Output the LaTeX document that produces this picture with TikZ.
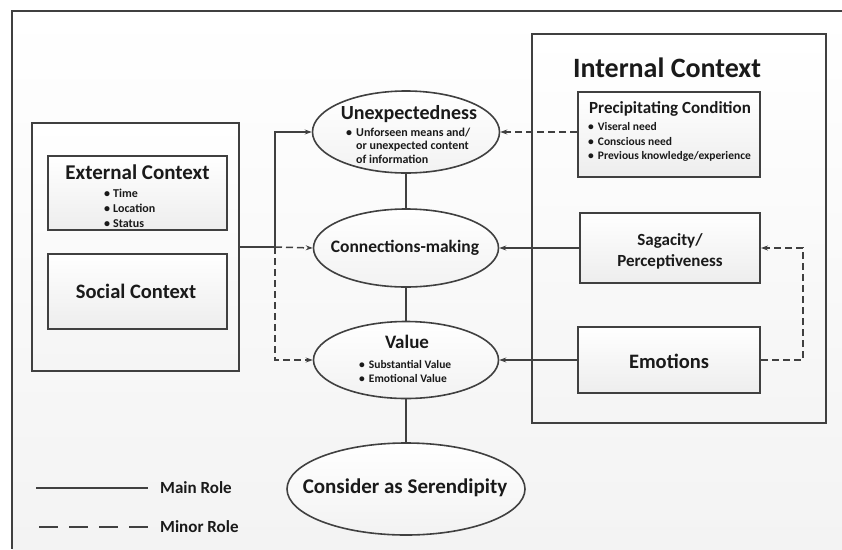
\documentclass[tikz,border=0pt]{standalone}
\usepackage{fontspec}
\setmainfont{Carlito}
\usetikzlibrary{arrows.meta}
\definecolor{linec}{HTML}{404040}
\definecolor{txtc}{HTML}{1A1A1A}
\definecolor{bgc}{HTML}{F3F3F3}
\newcommand{\fs}[2]{\fontsize{#1}{#2}\selectfont}
\tikzset{
  box/.style={draw=linec, line width=2pt, rectangle, top color=white, bottom color=gray!14, inner sep=0pt},
  bigbox/.style={draw=linec, line width=2.4pt, rectangle, top color=white, bottom color=gray!8, inner sep=0pt},
  ell/.style={draw=linec, line width=1.6pt, ellipse, top color=white, bottom color=gray!10, inner sep=0pt},
  txt/.style={text=txtc, font=\bfseries, inner sep=0pt},
  main/.style={draw=linec, line width=1.5pt},
  minor/.style={draw=linec, line width=1.5pt, dash pattern=on 7pt off 4pt},
  legminor/.style={draw=linec, line width=1.6pt, dash pattern=on 19pt off 11pt},
  arr/.style={-{Stealth[length=7pt,width=5pt]}},
}
\usetikzlibrary{shapes.geometric}
\begin{document}
\begin{tikzpicture}[x=1pt,y=-1pt]
\useasboundingbox (0,0) rectangle (842,549);
\fill[white] (0,0) rectangle (842,549);
\shade[top color=white, bottom color=bgc] (12,11) rectangle (842,549);
\draw[draw=linec, line width=2.6pt] (842,11) -- (12,11) -- (12,549);

% left group
\node[bigbox, minimum width=207pt, minimum height=248pt] (leftbox) at (135.5,247) {};
\node[box, minimum width=179pt, minimum height=74pt] (ext) at (137.5,193) {};
\node[box, minimum width=179pt, minimum height=75pt] (soc) at (137.5,291.5) {};
\node[txt, font=\bfseries\fs{21}{25}] (extT) at (137.5,172.5) {External Context};
\node[txt, anchor=west, font=\bfseries\fs{12}{14.8}] (extB) at (104,209.5)
  {\begin{tabular}{@{}l@{\hspace{3pt}}l@{}}•&Time\\•&Location\\•&Status\end{tabular}};
\node[txt, font=\bfseries\fs{20.5}{24}] (socT) at (136,291) {Social Context};

% internal group
\node[bigbox, minimum width=294pt, minimum height=389pt] (intbox) at (679,228.5) {};
\node[txt, font=\bfseries\fs{28}{32}] (intT) at (667,68) {Internal Context};
\node[box, minimum width=182pt, minimum height=85pt] (prec) at (669,134.5) {};
\node[txt, font=\bfseries\fs{17}{20}] (precT) at (670,109) {Precipitating Condition};
\node[txt, anchor=west, font=\bfseries\fs{11.5}{14.5}] (precB) at (588,142.5)
  {\begin{tabular}{@{}l@{\hspace{4pt}}l@{}}•&Viseral need\\•&Conscious need\\•&Previous knowledge/experience\end{tabular}};
\node[box, minimum width=180pt, minimum height=70pt] (sag) at (670,248) {};
\node[txt, align=center, font=\bfseries\fs{17}{21}] (sagT) at (670,251) {Sagacity/\\Perceptiveness};
\node[box, minimum width=182pt, minimum height=66pt] (emo) at (669,360) {};
\node[txt, font=\bfseries\fs{20.5}{24}] (emoT) at (669,361) {Emotions};

% ellipses
\node[ell, minimum width=187pt, minimum height=82pt] (unexp) at (406,132) {};
\node[txt, font=\bfseries\fs{20}{23}] (unexpT) at (409,114) {Unexpectedness};
\node[txt, anchor=west, font=\bfseries\fs{12}{13.5}] (unexpB) at (346,147)
  {\begin{tabular}{@{}l@{\hspace{4pt}}l@{}}•&Unforseen means and/\\&or unexpected content\\&of information\end{tabular}};
\node[ell, minimum width=185pt, minimum height=78pt] (conn) at (406,248) {};
\node[txt, font=\bfseries\fs{17.5}{22}] (connT) at (405,248) {Connections-making};
\node[ell, minimum width=185pt, minimum height=77pt] (value) at (406,360) {};
\node[txt, font=\bfseries\fs{19}{22}] (valueT) at (407,342) {Value};
\node[txt, anchor=west, font=\bfseries\fs{11.5}{14}] (valueB) at (359,373)
  {\begin{tabular}{@{}l@{\hspace{4pt}}l@{}}•&Substantial Value\\•&Emotional Value\end{tabular}};
\node[ell, minimum width=238pt, minimum height=92pt] (seren) at (406,489) {};
\node[txt, font=\bfseries\fs{21}{25}] (serenT) at (405,488) {Consider as Serendipity};

% connectors
\coordinate (jn) at (275,247);
\coordinate (cr) at (803,360);
\draw[main] (leftbox.east) -- (jn);
\draw[main, arr] (jn) |- (unexp.west);
\draw[minor, arr] (jn) -- (conn.west);
\draw[minor, arr] (jn) |- (value.west);
\draw[minor, arr] (unexp.east -| prec.west) -- (unexp.east);
\draw[main, arr] (sag.west) -- (conn.east);
\draw[main, arr] (emo.west) -- (value.east);
\draw[minor, arr] (emo.east) -- (cr) |- (sag.east);
\draw[main] (unexp.south) -- (conn.north);
\draw[main] (conn.south) -- (value.north);
\draw[main] (value.south) -- (seren.north);

% legend
\coordinate (l1a) at (36,488);
\coordinate (l1b) at (148,488);
\coordinate (l2a) at (39,527);
\coordinate (l2b) at (148,527);
\draw[main, line width=1.6pt] (l1a) -- (l1b);
\draw[legminor] (l2a) -- (l2b);
\node[txt, anchor=west, font=\bfseries\fs{17}{20}] (mainL) at (160,488) {Main Role};
\node[txt, anchor=west, font=\bfseries\fs{17}{20}] (minorL) at (160,527) {Minor Role};
\end{tikzpicture}
\end{document}
